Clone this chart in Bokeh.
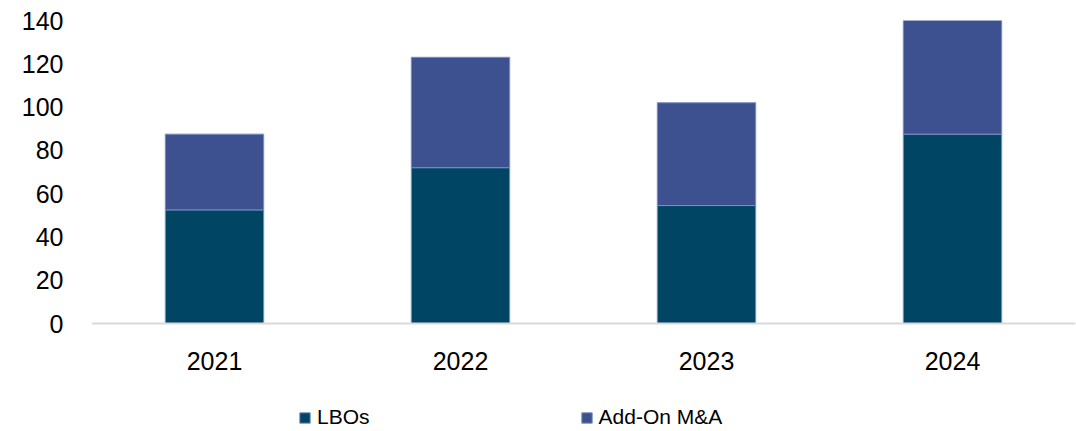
from bokeh.plotting import figure
from bokeh.models import Range1d, FactorRange, Legend, LegendItem, FixedTicker
from bokeh.embed import file_html
from bokeh.resources import INLINE

years = ["2021", "2022", "2023", "2024"]
lbos = [52.5, 72.0, 54.5, 87.5]
addon = [35.0, 51.0, 47.5, 52.5]
series = ["LBOs", "Add-On M&A"]
y_ticks = [0, 20, 40, 60, 80, 100, 120, 140]

colors = ["#004563", "#3D5191"]
FONT = "Liberation Sans"
FS = "25px"

data = {"year": years, "LBOs": lbos, "Add-On M&A": addon}

# frame spans the whole lower area; the x axis is pinned at y = 0
p = figure(frame_width=984, frame_height=411, x_range=FactorRange(*years, range_padding=0),
           y_range=Range1d(-49.9, 140), output_backend="svg", toolbar_location=None,
           min_border_left=91, min_border_right=1, min_border_top=20, min_border_bottom=0)

renderers = p.vbar_stack(series, x="year", width=0.4, color=colors, source=data,
                         line_color="#7890bb", line_width=1)

p.outline_line_color = None
p.xgrid.grid_line_color = None
p.ygrid.grid_line_color = None

p.yaxis.ticker = FixedTicker(ticks=y_ticks)
p.yaxis.axis_line_color = None
p.yaxis.major_tick_line_color = None
p.yaxis.minor_tick_line_color = None
p.yaxis.major_tick_out = 0
p.yaxis.major_tick_in = 0
p.yaxis.major_label_standoff = 28
p.yaxis.major_label_text_font = FONT
p.yaxis.major_label_text_font_size = FS
p.yaxis.major_label_text_color = "#000000"

p.xaxis.fixed_location = 0
p.xaxis.axis_line_color = "#d9d9d9"
p.xaxis.axis_line_width = 2
p.xaxis.major_tick_line_color = None
p.xaxis.minor_tick_line_color = None
p.xaxis.major_tick_out = 0
p.xaxis.major_tick_in = 0
p.xaxis.major_label_standoff = 28
p.xaxis.major_label_text_font = FONT
p.xaxis.major_label_text_font_size = FS
p.xaxis.major_label_text_color = "#000000"

legend = Legend(items=[LegendItem(label=s, renderers=[r]) for s, r in zip(series, renderers)],
                orientation="horizontal", location=(207, 2), spacing=210,
                glyph_width=13, glyph_height=13, label_standoff=6, padding=0, margin=0,
                label_text_font=FONT, label_text_font_size="21px", label_text_color="#000000",
                border_line_color=None, background_fill_alpha=0)
p.add_layout(legend, "center")

open("out.html", "w").write(file_html(p, INLINE))
